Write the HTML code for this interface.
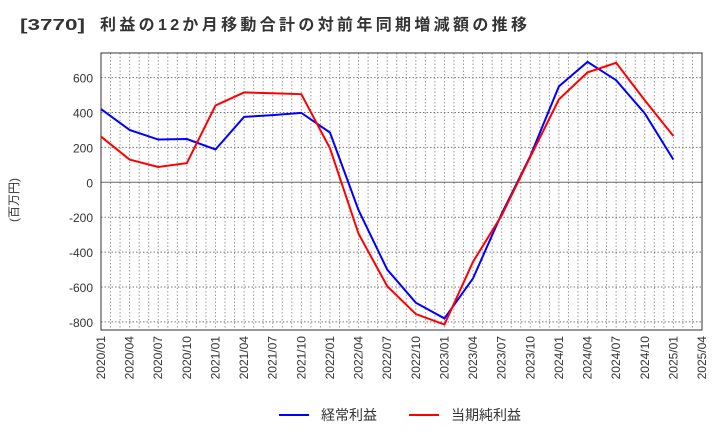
<!DOCTYPE html>
<html><head><meta charset="utf-8"><style>
body{margin:0;background:#fff;}
svg text{font-family:"Liberation Sans","Noto Sans CJK JP",sans-serif;}
</style></head><body>
<svg id="c" width="720" height="440" xmlns="http://www.w3.org/2000/svg">
<g>
<text x="20" y="30" font-size="16" font-weight="bold" fill="#333" textLength="65" lengthAdjust="spacingAndGlyphs">[3770]</text>
<text x="100" y="30" font-size="16" font-weight="bold" fill="#333" textLength="427" lengthAdjust="spacing">利益の12か月移動合計の対前年同期増減額の推移</text>
</g>
<text transform="translate(18,200) rotate(-90)" text-anchor="middle" font-size="12" fill="#333">(百万円)</text>
<g id="grid"></g><g id="axes"></g><g id="series"></g>
<g>
<line x1="279" y1="415" x2="309" y2="415" stroke="#00f" stroke-width="2"/>
<text x="321" y="420" font-size="14" fill="#333">経常利益</text>
<line x1="409" y1="415" x2="439" y2="415" stroke="#f00" stroke-width="2"/>
<text x="451" y="420" font-size="14" fill="#333">当期純利益</text>
</g>
</svg>
<script>
const xLabels=["2020/01","2020/04","2020/07","2020/10","2021/01","2021/04","2021/07","2021/10","2022/01","2022/04","2022/07","2022/10","2023/01","2023/04","2023/07","2023/10","2024/01","2024/04","2024/07","2024/10","2025/01","2025/04"];
const yTicks=[600,400,200,0,-200,-400,-600,-800];
const ordinary=[420,300,245,248,188,375,385,398,285,-160,-500,-690,-780,-550,-180,150,550,690,585,395,130];
const net=[262,130,88,110,440,515,510,505,195,-295,-595,-755,-815,-455,-190,145,475,630,685,470,265];
const L=101,R=702,T=53,B=330;
const NS="http://www.w3.org/2000/svg";
const xs=i=>L+i*(R-L)/(xLabels.length-1);
const ys=v=>182.3-v*(34.9/200);
function mk(tag,attrs,parent){const e=document.createElementNS(NS,tag);for(const k in attrs)e.setAttribute(k,attrs[k]);parent.appendChild(e);return e;}
const grid=document.getElementById('grid'),axes=document.getElementById('axes'),ser=document.getElementById('series');
const months=(xLabels.length-1)*3;
for(let m=1;m<months;m++){const x=L+m*(R-L)/months;const l=mk('line',{x1:x,x2:x,y1:T,y2:B,stroke:'#999','stroke-dasharray':'1.5,2','stroke-width':1},grid);

}
yTicks.forEach(v=>{const y=ys(v);const l=mk('line',{x1:L,x2:R,y1:y,y2:y,stroke:v===0?'#666':'#777','stroke-dasharray':v===0?'none':'1.5,2','stroke-width':1},grid);


const t=mk('text',{x:L-8,y:y+5,'text-anchor':'end','font-size':12,fill:'#333'},axes);t.textContent=v;

});
const fr=mk('rect',{x:L,y:T,width:R-L,height:B-T,fill:'none',stroke:'#333','stroke-width':1},axes);


xLabels.forEach((s,i)=>{const x=xs(i);const t=mk('text',{transform:`translate(${x+4},${B+6}) rotate(-90)`,'text-anchor':'end','font-size':12,fill:'#333'},axes);t.textContent=s;

});
function line(d,c,name){const p=mk('polyline',{points:d.map((v,i)=>xs(i)+','+ys(v)).join(' '),fill:'none',stroke:c,'stroke-width':2},ser);

}
line(ordinary,'#00f','ordinary-profit-line');
line(net,'#f00','net-profit-line');
</script>
</body></html>
